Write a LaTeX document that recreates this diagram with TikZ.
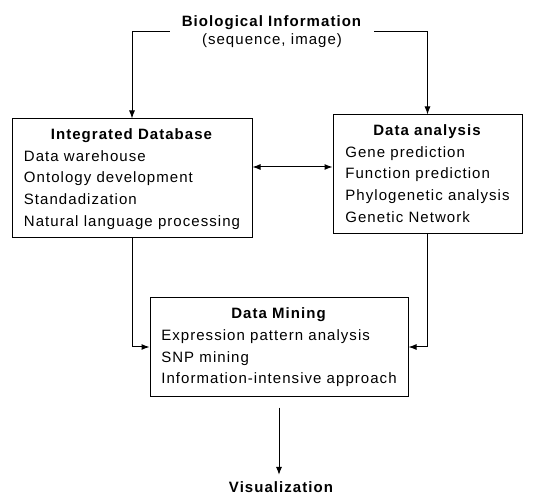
\documentclass[tikz,border=0pt]{standalone}
\usepackage{fontspec}
\setmainfont{Liberation Sans}[LetterSpace=7]
\usetikzlibrary{arrows.meta}

\begin{document}
\begin{tikzpicture}[
        x=1pt, y=-1pt,
        every node/.style={font=\fontsize{15}{21.7}\selectfont, inner sep=0pt},
        box/.style={draw, line width=1pt},
        link/.style={draw, line width=1pt, -{Latex[length=8pt,width=6pt]}}
    ]
 \useasboundingbox (0,0) rectangle (549,494);
 \node (bio) [align=center, inner xsep=12pt, font=\fontsize{15}{18}\selectfont] at (272,31.5)
     {\textbf{Biological Information}\\(sequence, image)};
 \node (idb) [box, minimum width=240pt, minimum height=119pt] at (132,178.5)
     {\begin{tabular}{@{}l@{}}\multicolumn{1}{c}{\textbf{Integrated Database}}\\
      Data warehouse\\ Ontology development\\ Standadization\\ Natural language processing\end{tabular}};
 \node (da) [box, minimum width=189pt, minimum height=119pt] at (427.5,174.5)
     {\begin{tabular}{@{}l@{}}\multicolumn{1}{c}{\textbf{Data analysis}}\\
      Gene prediction\\ Function prediction\\ Phylogenetic analysis\\ Genetic Network\end{tabular}};
 \node (dm) [box, minimum width=258pt, minimum height=98pt] at (279,347)
     {\begin{tabular}{@{}l@{}}\multicolumn{1}{c}{\textbf{Data Mining}}\\
      Expression pattern analysis\\ SNP mining\\ Information-intensive approach\end{tabular}};
 \node (vis) [anchor=base, font=\bfseries\fontsize{15}{18}\selectfont] at (281,492) {Visualization};
 \coordinate (dbl) at ([yshift=11.5pt]idb.east);

 \path[link] (bio.west) -| (idb.north);
 \path[link] (bio.east) -| (da.north);
 \path[link, {Latex[length=8pt,width=6pt]}-{Latex[length=8pt,width=6pt]}] (dbl) -- (dbl -| da.west);
 \path[link] (idb.south) |- (dm.west);
 \path[link] (da.south) |- (dm.east);
 \path[link, shorten <=11pt, shorten >=6pt] (dm.south) -- (dm.south |- vis.north);
\end{tikzpicture}
\end{document}
